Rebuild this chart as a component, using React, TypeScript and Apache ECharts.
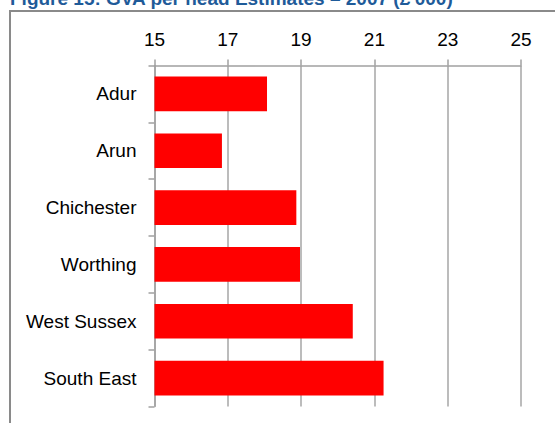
import React, { useEffect, useRef } from "react";
import * as echarts from "echarts";

const titleText = "Figure 15: GVA per head Estimates \u2013 2007 (\u00a3'000)";
const categories = ["Adur", "Arun", "Chichester", "Worthing", "West Sussex", "South East"];
const gvaValues = [18.07, 16.84, 18.87, 18.97, 20.41, 21.25];
const axisMin = 15;
const axisMax = 25;
const axisInterval = 2;

export default function App() {
  const ref = useRef<HTMLDivElement>(null);
  useEffect(() => {
    if (!ref.current) return;
    const chart = echarts.init(ref.current, null, { renderer: "svg" });
    const font = "'Liberation Sans', Arial, sans-serif";
    chart.setOption({
      animation: false,
      backgroundColor: "#ffffff",
      graphic: [
        {
          type: "rect",
          shape: { x: 10, y: 11, width: 700, height: 600 },
          style: { fill: "none", stroke: "#8a8a8a", lineWidth: 2 },
          z: -1,
        },
        {
          type: "text",
          x: 10,
          y: -1.5,
          style: {
            text: titleText,
            fill: "#1F5B99",
            font: "bold 19px " + font,
            textVerticalAlign: "middle",
            verticalAlign: "middle",
          },
        },
      ],
      grid: { left: 154.5, right: 34, top: 65.5, bottom: 16.5, containLabel: false },
      xAxis: {
        type: "value",
        position: "top",
        min: axisMin,
        max: axisMax,
        interval: axisInterval,
        axisLine: { show: true, lineStyle: { color: "#a0a0a0", width: 1.5 } },
        axisTick: { show: true, length: 6, lineStyle: { color: "#a0a0a0", width: 1.5 } },
        splitLine: { show: true, lineStyle: { color: "#a6a6a6", width: 1.5 } },
        axisLabel: { color: "#000", fontSize: 19, fontFamily: font, margin: 17 },
      },
      yAxis: {
        type: "category",
        data: categories,
        inverse: true,
        axisLine: { show: true, lineStyle: { color: "#a0a0a0", width: 1.5 } },
        axisTick: { show: true, length: 6, lineStyle: { color: "#a0a0a0", width: 1.5 } },
        axisLabel: { color: "#000", fontSize: 19, fontFamily: font, margin: 18 },
        splitLine: { show: false },
      },
      series: [
        {
          type: "bar",
          data: gvaValues,
          barCategoryGap: "39%",
          itemStyle: { color: "#ff0000" },
        },
      ],
    });
    return () => chart.dispose();
  }, []);
  return (
    <div
      ref={ref}
      style={{ position: "fixed", left: 0, top: 0, width: 555, height: 423 }}
    />
  );
}
